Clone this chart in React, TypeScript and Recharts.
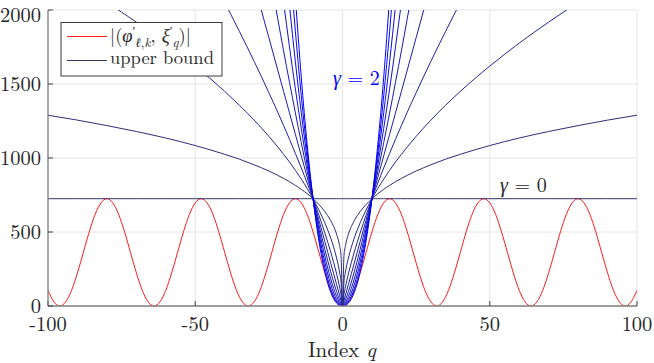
import React from 'react';
import { LineChart, Line, XAxis, YAxis, CartesianGrid } from 'recharts';

const xTicks = [-100, -50, 0, 50, 100];
const yTicks = [0, 500, 1000, 1500, 2000];

// red curve |(phi', xi')| sampled every 2 units of q, from -100 to 100
const redQ = Array.from({ length: 101 }, (_, i) => -100 + 2 * i);
const redValues = [
  106, 28,
  0, 28, 106, 224, 362, 501, 619, 697, 725, 697, 619, 501, 362, 224, 106, 28,
  0, 28, 106, 224, 362, 501, 619, 697, 725, 697, 619, 501, 362, 224, 106, 28,
  0, 28, 106, 224, 362, 501, 619, 697, 725, 697, 619, 501, 362, 224, 106, 28,
  0, 28, 106, 224, 362, 501, 619, 697, 725, 697, 619, 501, 362, 224, 106, 28,
  0, 28, 106, 224, 362, 501, 619, 697, 725, 697, 619, 501, 362, 224, 106, 28,
  0, 28, 106, 224, 362, 501, 619, 697, 725, 697, 619, 501, 362, 224, 106, 28,
  0, 28, 106,
];

// upper-bound family, read on the q >= 0 side (curves are symmetric)
const boundQ = [0, 0.5, 1, 2, 3, 4, 5, 6, 7, 8, 9, 10, 11, 12, 13, 14, 16, 18, 20, 22, 25, 30, 35, 40, 50, 60, 70, 80, 90, 100];
const boundA = [725, 725, 725, 725, 725, 725, 725, 725, 725, 725, 725, 725, 725, 725, 725, 725, 725, 725, 725, 725, 725, 725, 725, 725, 725, 725, 725, 725, 725, 725];
const boundB = [0, 343, 408, 485, 537, 577, 610, 638, 663, 686, 706, 725, 742, 759, 774, 789, 815, 840, 862, 883, 912, 954, 992, 1025, 1084, 1135, 1179, 1219, 1256, 1289];
const boundC = [0, 162, 229, 324, 397, 459, 513, 562, 607, 648, 688, 725, 760, 794, 827, 858, 917, 973, 1025, 1075, 1146, 1256, 1356, 1450, 1621, 1776, 1918, 2051, 2175];
const boundD = [0, 77, 129, 217, 294, 365, 431, 494, 555, 613, 670, 725, 779, 831, 883, 933, 1031, 1127, 1219, 1310, 1441, 1653, 1855, 2051];
const boundE = [0, 36, 73, 145, 218, 290, 363, 435, 508, 580, 653, 725, 798, 870, 943, 1015, 1160, 1305, 1450, 1595, 1813, 2175];
const boundF = [0, 17, 41, 97, 161, 231, 305, 383, 464, 549, 635, 725, 817, 911, 1006, 1104, 1305, 1512, 1724, 1943, 2279];
const boundG = [0, 8, 23, 65, 119, 183, 256, 337, 425, 519, 619, 725, 836, 953, 1075, 1201, 1467, 1751, 2051];
const boundH = [0, 4, 13, 43, 88, 146, 216, 297, 388, 491, 603, 725, 857, 997, 1148, 1306, 1650, 2028];
const boundI = [0, 2, 7, 29, 65, 116, 181, 261, 355, 464, 587, 725, 877, 1044, 1225, 1421, 1856, 2349];
const boundJ = [0, 1, 4, 19, 48, 92, 152, 230, 325, 439, 572, 725, 898, 1093, 1308, 1546, 2087];

const boundSeries = [boundA, boundB, boundC, boundD, boundE, boundF, boundG, boundH, boundI, boundJ];
const boundColors = ['#333366', '#2d2d77', '#282888', '#222299', '#1c1caa', '#1717bb', '#1111cc', '#0b0bdd', '#0606ee', '#0000ff'];

const redData = redQ.map((q, i) => ({ q, v: redValues[i] }));

function mirrored(vals: number[]) {
  const pos = vals.map((v, i) => ({ q: boundQ[i], v }));
  const neg = pos.slice(1).reverse().map((p) => ({ q: -p.q, v: p.v }));
  return [...neg, ...pos];
}

const FONT = 'Latin Modern Roman';
const fs = { fontFamily: FONT };
const tickStyle = { fontSize: 20.5, fill: '#262626', style: fs };
const axisLineStyle = { stroke: '#808080', strokeWidth: 1.3 };
const tickLineStyle = { stroke: '#404040', strokeWidth: 1 };

export default function App() {
  return (
    <div style={{ position: 'absolute', left: 0, top: 0, width: 654, height: 363, background: '#fff' }}>
      <LineChart width={654} height={363} margin={{ top: 10, right: 17, bottom: 0, left: 0 }}>
        <CartesianGrid stroke="#e4e4e4" strokeWidth={1} />
        <XAxis
          dataKey="q"
          type="number"
          domain={[-100, 100]}
          ticks={xTicks}
          allowDataOverflow
          height={57}
          tickSize={-5}
          tickMargin={15}
          tick={tickStyle}
          axisLine={axisLineStyle}
          tickLine={tickLineStyle}
        />
        <XAxis
          xAxisId="top"
          orientation="top"
          type="number"
          domain={[-100, 100]}
          ticks={xTicks}
          allowDataOverflow
          height={0}
          tickSize={-5}
          tick={false}
          axisLine={axisLineStyle}
          tickLine={tickLineStyle}
        />
        <YAxis
          type="number"
          domain={[0, 2000]}
          ticks={yTicks}
          allowDataOverflow
          width={48}
          tickSize={-5}
          tickMargin={12}
          tick={tickStyle}
          axisLine={axisLineStyle}
          tickLine={tickLineStyle}
        />
        <YAxis
          yAxisId="right"
          orientation="right"
          type="number"
          domain={[0, 2000]}
          ticks={yTicks}
          allowDataOverflow
          width={0}
          tickSize={-5}
          tick={false}
          axisLine={axisLineStyle}
          tickLine={tickLineStyle}
        />
        <Line
          data={redData}
          dataKey="v"
          type="monotone"
          stroke="#ff1a1a"
          strokeWidth={1}
          dot={false}
          isAnimationActive={false}
        />
        {boundSeries.map((vals, k) => (
          <Line
            key={k}
            data={mirrored(vals)}
            dataKey="v"
            type="monotone"
            stroke={boundColors[k]}
            strokeWidth={1}
            dot={false}
            isAnimationActive={false}
          />
        ))}
      </LineChart>
      <svg
        width={654}
        height={363}
        style={{ position: 'absolute', left: 0, top: 0, pointerEvents: 'none' }}
      >
        <rect x={61} y={22.5} width={161} height={53.5} fill="#fff" stroke="#3a3a3a" strokeWidth={1} />
        <line x1={67} x2={107} y1={36.5} y2={36.5} stroke="#ff1a1a" strokeWidth={1} />
        <line x1={67} x2={107} y1={60.5} y2={60.5} stroke="#333366" strokeWidth={1} />
        <text x={110} y={42} fontSize={18.5} fill="#262626" style={fs}>
          |(
          <tspan fontStyle="italic">φ</tspan>
          <tspan dy={-7} fontSize={13}>′</tspan>
          <tspan dy={12} fontSize={13} fontStyle="italic">ℓ</tspan>
          <tspan fontSize={13}>,</tspan>
          <tspan fontSize={13} fontStyle="italic">k</tspan>
          <tspan dy={-5}>, </tspan>
          <tspan fontStyle="italic">ξ</tspan>
          <tspan dy={-7} fontSize={13}>′</tspan>
          <tspan dy={12} fontSize={13} fontStyle="italic">q</tspan>
          <tspan dy={-5}>)|</tspan>
        </text>
        <text x={110} y={64} fontSize={18.5} fill="#262626" style={fs}>upper bound</text>
        <text x={333} y={85} fontSize={20} fill="#0000ff" style={fs}>
          <tspan fontStyle="italic">γ</tspan> = 2
        </text>
        <text x={500} y={192} fontSize={20} fill="#262626" style={fs}>
          <tspan fontStyle="italic">γ</tspan> = 0
        </text>
        <text x={342} y={357} fontSize={21} fill="#262626" textAnchor="middle" style={fs}>
          Index <tspan fontStyle="italic">q</tspan>
        </text>
      </svg>
    </div>
  );
}
